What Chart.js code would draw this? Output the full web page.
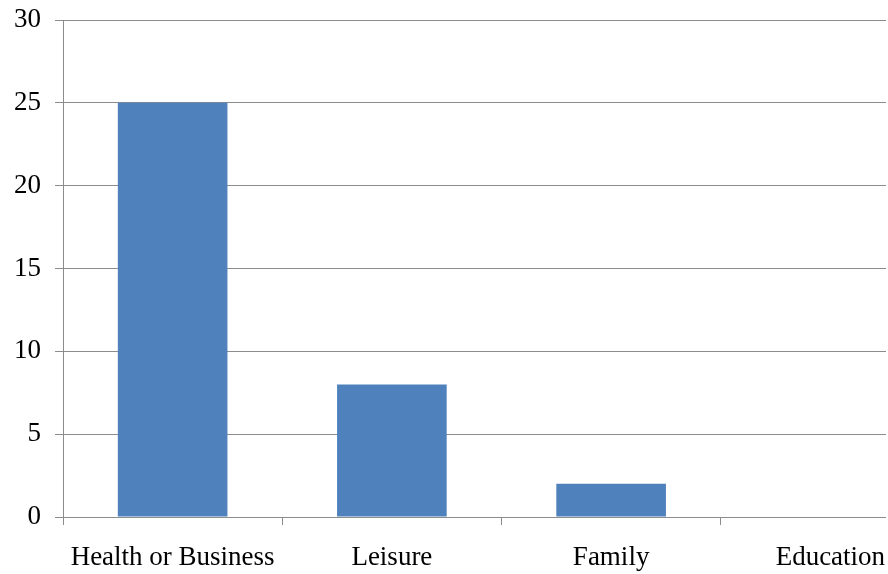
<!DOCTYPE html>
<html>
<head>
<meta charset="utf-8">
<script src="https://cdn.jsdelivr.net/npm/chart.js@4"></script>
<style>
    html, body { margin: 0; padding: 0; background: #fff; overflow: hidden; }
    #clip { width: 886px; height: 574px; overflow: hidden; }
    #wrap { width: 940px; height: 574px; }
</style>
</head>
<body>
<div id="clip"><div id="wrap"><canvas id="reasons-chart"></canvas></div></div>
<script>
const categories = ['Health or Business', 'Leisure', 'Family', 'Education'];
const counts = [25, 8, 2, 0];
const yTicks = [0, 5, 10, 15, 20, 25, 30];

const axisColor = '#8c8c8c';
const fontStyle = { family: '"Liberation Serif", "Times New Roman", serif', size: 27 };

new Chart(
    document.getElementById('reasons-chart'),
    {
        type: 'bar',
        data: {
            labels: categories,
            datasets: [
                {
                    label: 'Count',
                    data: counts,
                    backgroundColor: '#4f81bd',
                    categoryPercentage: 1,
                    barPercentage: 0.5
                }
            ]
        },
        options: {
            responsive: true,
            maintainAspectRatio: false,
            animation: false,
            layout: {
                padding: { top: 20, right: 0, left: 0, bottom: 0 }
            },
            plugins: {
                legend: { display: false },
                tooltip: { enabled: false }
            },
            scales: {
                x: {
                    afterFit: scale => {
                        // keep the plot bottom where the reference has it
                        scale.height = 57;
                    },
                    grid: {
                        drawOnChartArea: false,
                        drawTicks: true,
                        tickLength: 8,
                        color: axisColor
                    },
                    border: { color: axisColor },
                    ticks: {
                        color: '#000',
                        font: fontStyle,
                        padding: 17,
                        maxRotation: 0
                    }
                },
                y: {
                    min: 0,
                    max: 30,
                    afterBuildTicks: scale => {
                        scale.ticks = yTicks.map(v => ({ value: v }));
                    },
                    afterFit: scale => {
                        scale.width = 63;
                        scale.paddingTop = 0;
                        scale.paddingBottom = 0;
                    },
                    grid: {
                        color: axisColor,
                        tickLength: 8
                    },
                    border: { color: axisColor },
                    ticks: {
                        color: '#000',
                        font: fontStyle,
                        padding: 14
                    }
                }
            }
        }
    }
);
</script>
</body>
</html>
